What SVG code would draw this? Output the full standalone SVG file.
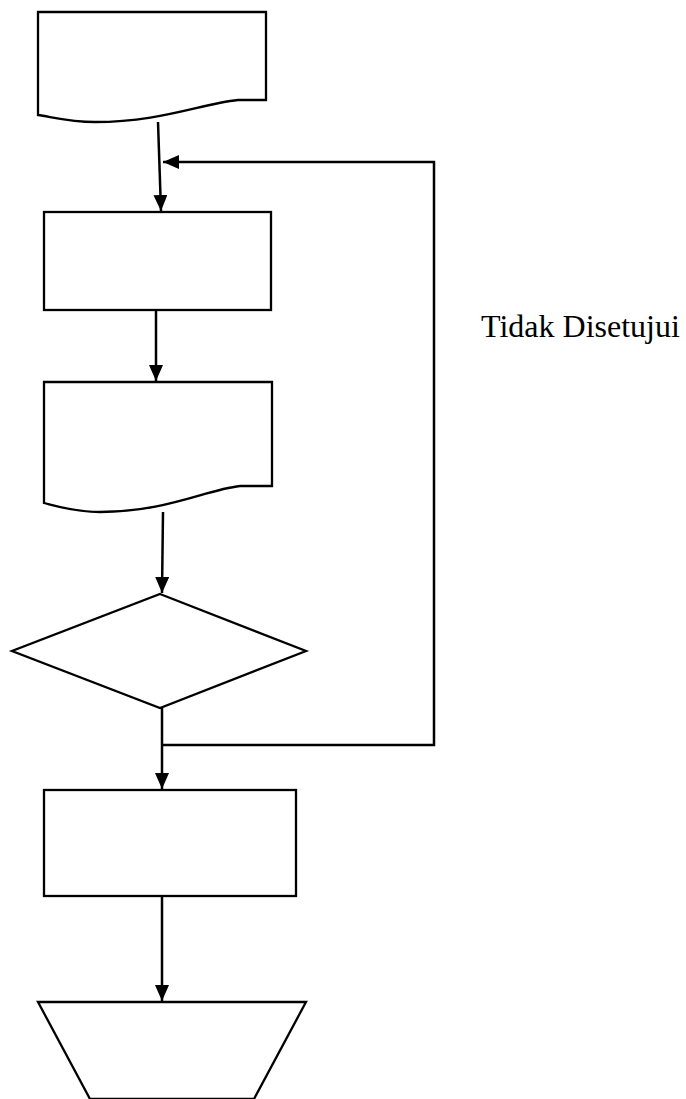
<svg xmlns="http://www.w3.org/2000/svg" width="686" height="1099" viewBox="0 0 686 1099">
  <style>
    .shape { fill: #ffffff; stroke: #000000; stroke-width: 2.3; stroke-linejoin: miter; }
    .conn { fill: none; stroke: #000000; stroke-width: 2.5; }
    .label { font-family: "Liberation Serif", "Times New Roman", serif; font-size: 32px; fill: #000000; }
  </style>
  <defs>
    <marker id="arrow" markerUnits="userSpaceOnUse" markerWidth="18" markerHeight="16" refX="16" refY="7" orient="auto">
      <path d="M0,0 L16,7 L0,14 Z" fill="#000000"/>
    </marker>
  </defs>
  <rect width="686" height="1099" fill="#ffffff"/>

  <!-- document: input form -->
  <g id="doc-input">
    <path class="shape" d="M38,12 H266 V100 H238 C200,104 160,122 95,122 C70,122 52,117 38,115 Z"/>
  </g>

  <!-- process -->
  <g id="process-1">
    <rect class="shape" x="44" y="212" width="227" height="98"/>
  </g>

  <!-- document: result -->
  <g id="doc-result">
    <path class="shape" d="M44,382 H272 V486 H240 C205,490 165,512 100,512 C75,512 56,506 44,503 Z"/>
  </g>

  <!-- decision -->
  <g id="decision">
    <polygon class="shape" points="160,594 306,651 160,708 12,651"/>
  </g>

  <!-- process -->
  <g id="process-2">
    <rect class="shape" x="44" y="790" width="252" height="106"/>
  </g>

  <!-- manual operation -->
  <g id="manual-op">
    <polygon class="shape" points="38,1002 306,1002 254,1099 90,1099"/>
  </g>

  <!-- connectors -->
  <g id="connectors">
    <line class="conn" x1="158" y1="122" x2="161" y2="211" marker-end="url(#arrow)"/>
    <line class="conn" x1="156" y1="310" x2="156" y2="381" marker-end="url(#arrow)"/>
    <line class="conn" x1="163" y1="512" x2="162" y2="593" marker-end="url(#arrow)"/>
    <line class="conn" x1="162" y1="708" x2="162" y2="789" marker-end="url(#arrow)"/>
    <polyline class="conn" points="162,745 434,745 434,162 163,162" marker-end="url(#arrow)"/>
    <line class="conn" x1="162" y1="896" x2="162" y2="1001" marker-end="url(#arrow)"/>
  </g>

  <!-- loop label -->
  <g id="label-rejected">
    <text class="label" x="481" y="337">Tidak Disetujui</text>
  </g>
</svg>
